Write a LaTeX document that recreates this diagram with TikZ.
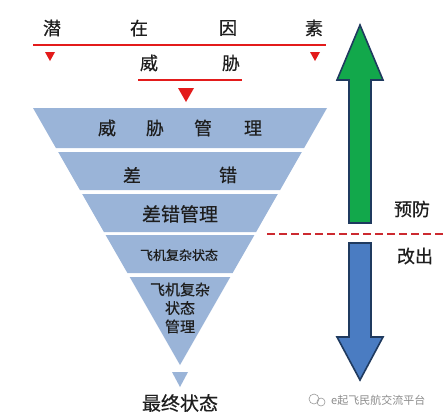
\documentclass[tikz,border=0pt]{standalone}
\usepackage{fontspec}
\setmainfont{Noto Sans CJK SC}[FakeBold=0.5]
\newfontfamily\wmfont{Noto Sans CJK SC}
\definecolor{band}{HTML}{9AB4D8}
\definecolor{redl}{HTML}{E31B1B}
\definecolor{dashred}{HTML}{CC2A30}
\definecolor{txt}{HTML}{1E1E1E}
\definecolor{grn}{HTML}{12A84B}
\definecolor{blu}{HTML}{4A7CC2}
\definecolor{outl}{HTML}{1F3A5F}
\tikzset{
  big/.style={font=\fontsize{18}{18}\selectfont, text=txt, inner sep=0pt},
  mid/.style={font=\fontsize{19}{19}\selectfont, text=txt, inner sep=0pt},
  sml/.style={font=\fontsize{13}{13}\selectfont, text=txt, inner sep=0pt},
  sml2/.style={font=\fontsize{15}{18.5}\selectfont, text=txt, inner sep=0pt, align=center},
  redline/.style={draw=redl, line width=2.6pt},
  redtri/.style={fill=redl},
  bandfill/.style={fill=band},
  arrowshape/.style={draw=outl, line width=1.6pt, line join=miter},
  wm/.style={font=\wmfont\fontsize{11}{11}\selectfont, text=black!45, inner sep=0pt}
}
\begin{document}
\begin{tikzpicture}[x=1pt,y=-1pt]
\useasboundingbox (0,0) rectangle (443,418);
\fill[white] (0,0) rectangle (443,418);
% top texts
\node[big] (q1) at (52,28) {潜};
\node[big] (q2) at (139,28) {在};
\node[big] (q3) at (228,28) {因};
\node[big] (q4) at (314,28) {素};
\draw[redline] (33,45) -- (326,45);
\fill[redtri] (45,52) -- (55,52) -- (50,61) -- cycle;
\fill[redtri] (310,52) -- (320,52) -- (315,61) -- cycle;
\node[big] (w1) at (149,63) {威};
\node[big] (w2) at (231,63) {胁};
\draw[redline] (138,80) -- (242,80);
\fill[redtri] (178,88) -- (194,88) -- (186,102) -- cycle;
% funnel bands
\fill[bandfill] (33,108) -- (327,108) -- (304.1,148) -- (55.9,148) -- cycle;
\fill[bandfill] (58.2,152) -- (301.8,152) -- (280.1,190) -- (79.9,190) -- cycle;
\fill[bandfill] (82.2,194) -- (277.8,194) -- (256.1,232) -- (103.9,232) -- cycle;
\fill[bandfill] (105.6,235) -- (254.4,235) -- (232.6,273) -- (127.4,273) -- cycle;
\fill[bandfill] (129.7,277) -- (230.3,277) -- (180,365) -- cycle;
\fill[bandfill] (172,372) -- (188,372) -- (180,387) -- cycle;
% band texts
\node[big] (b1a) at (107,128) {威};
\node[big] (b1b) at (155,128) {胁};
\node[big] (b1c) at (203,128) {管};
\node[big] (b1d) at (253,128) {理};
\node[big] (b2a) at (132,175) {差};
\node[big] (b2b) at (228,175) {错};
\node[mid] (b3) at (180,214) {差错管理};
\node[sml] (b4) at (179,255) {飞机复杂状态};
\node[sml2] (b5) at (180,308) {飞机复杂\\状态\\管理};
\node[mid] (fin) at (180,403) {最终状态};
% arrows
\draw[arrowshape, fill=grn] (360,25) -- (383,80) -- (371,80) -- (371,223) -- (349,223) -- (349,80) -- (337,80) -- cycle;
\draw[arrowshape, fill=blu] (349,243) -- (371,243) -- (371,337) -- (383,337) -- (360,380) -- (337,337) -- (349,337) -- cycle;
\node[big] (yf) at (412,209) {预防};
\node[big] (gc) at (415,256) {改出};
% dashed separator
\draw[dashred, line width=2pt, dash pattern=on 8pt off 4pt] (267,234) -- (443,234);
% watermark
\draw[black!40, line width=0.6pt] (314,399) circle (5);
\draw[black!40, line width=0.6pt] (321,402) circle (4);
\node[wm, anchor=west] (wmt) at (331,400) {e起飞民航交流平台};
\end{tikzpicture}
\end{document}
